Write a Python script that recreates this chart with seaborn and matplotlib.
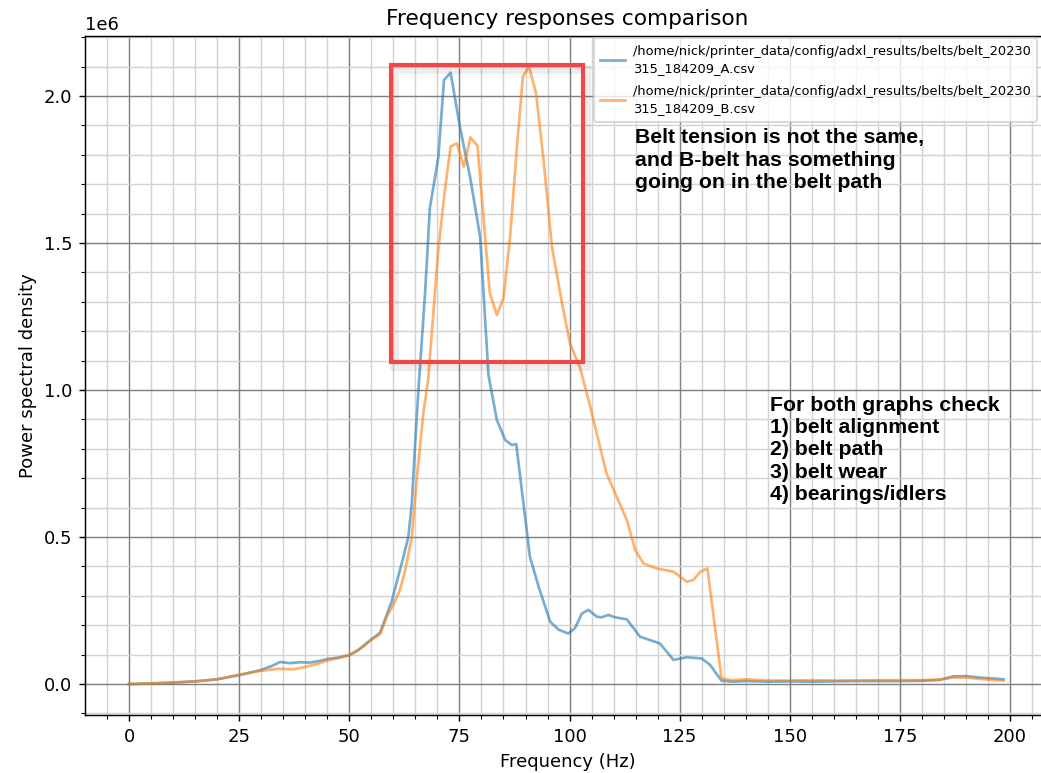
import matplotlib
matplotlib.use("Agg")
import matplotlib.pyplot as plt
import matplotlib.patches as mpatches
import matplotlib.patheffects as pe
from matplotlib.ticker import AutoMinorLocator
import seaborn as sns
import pandas as pd

# Series A (blue)
freq_a = [0, 5, 10, 15, 20, 25, 30, 32.5, 34.3, 36.5, 38.8, 41, 43, 45, 47.5, 50,
          52, 54, 57, 59.6, 61, 62.3, 63.4, 64.2, 64.9, 65.7, 67.2, 68.3, 70.2, 71.5,
          73.0, 75.1, 77.4, 79.7, 81.6, 83.5, 85.4, 86.9, 87.9, 91.0, 93.0, 95.6,
          97.5, 99.7, 101.2, 102.8, 104.3, 106.2, 107.3, 108.8, 110.3, 113.0, 116.0,
          120.5, 123.6, 126.6, 130.0, 131.9, 134.5, 137, 140, 145, 150, 155, 160,
          165, 170, 175, 180, 184, 187, 190, 193, 196, 198.5]
psd_a = [0.0, 0.002, 0.005, 0.009, 0.016, 0.03, 0.048, 0.062, 0.075, 0.071, 0.074,
         0.073, 0.078, 0.085, 0.090, 0.098, 0.115, 0.14, 0.175, 0.28, 0.36, 0.433,
         0.50, 0.615, 0.807, 1.0, 1.33, 1.62, 1.79, 2.054, 2.079, 1.896, 1.726, 1.521,
         1.05, 0.898, 0.83, 0.813, 0.816, 0.433, 0.33, 0.212, 0.185, 0.172, 0.189,
         0.240, 0.252, 0.229, 0.227, 0.235, 0.227, 0.220, 0.161, 0.138, 0.082, 0.091,
         0.087, 0.065, 0.011, 0.008, 0.010, 0.008, 0.009, 0.008, 0.009, 0.010, 0.010,
         0.010, 0.011, 0.014, 0.026, 0.027, 0.022, 0.019, 0.016]

# Series B (orange)
freq_b = [0, 5, 10, 15, 20, 25, 30, 34, 37.3, 40, 43, 45, 47.5, 50, 53, 55, 57, 58.5,
          60, 61.5, 62.7, 64.2, 65.3, 66.8, 67.9, 70.2, 71.7, 73.0, 74.4, 76.0, 77.5,
          79.1, 81.9, 83.5, 85.0, 86.5, 88.0, 89.4, 90.8, 92.4, 94.1, 96.0, 98.3,
          100.1, 102.4, 104.7, 108.4, 110.7, 113.0, 114.9, 116.8, 119.8, 123.6, 126.6,
          128.1, 129.7, 131.3, 134.5, 137, 140, 145, 150, 155, 160, 165, 170, 175, 180,
          184, 187, 190, 195, 198.5]
psd_b = [0.0, 0.002, 0.005, 0.009, 0.016, 0.032, 0.045, 0.052, 0.050, 0.058, 0.070,
         0.080, 0.088, 0.098, 0.125, 0.15, 0.17, 0.229, 0.27, 0.32, 0.388, 0.50, 0.694,
         0.92, 1.034, 1.476, 1.68, 1.828, 1.839, 1.76, 1.859, 1.83, 1.329, 1.255, 1.312,
         1.521, 1.816, 2.066, 2.10, 2.009, 1.782, 1.487, 1.294, 1.159, 1.075, 0.943,
         0.716, 0.637, 0.558, 0.456, 0.41, 0.393, 0.382, 0.348, 0.354, 0.382, 0.393,
         0.019, 0.013, 0.016, 0.012, 0.012, 0.013, 0.012, 0.012, 0.013, 0.013, 0.013,
         0.015, 0.022, 0.022, 0.015, 0.012]

label_a = "/home/nick/printer_data/config/adxl_results/belts/belt_20230\n315_184209_A.csv"
label_b = "/home/nick/printer_data/config/adxl_results/belts/belt_20230\n315_184209_B.csv"

note_1 = "Belt tension is not the same,\nand B-belt has something\ngoing on in the belt path"
note_2 = "For both graphs check\n1) belt alignment\n2) belt path\n3) belt wear\n4) bearings/idlers"

df_a = pd.DataFrame({"freq": freq_a, "psd": [v * 1e6 for v in psd_a]})
df_b = pd.DataFrame({"freq": freq_b, "psd": [v * 1e6 for v in psd_b]})

fig = plt.figure(figsize=(1041 / 130, 773 / 130), dpi=130)
ax = fig.add_axes([85.2 / 1041, (773 - 714.9) / 773, 964.3 / 1041, (714.9 - 35.7) / 773])

sns.lineplot(data=df_a, x="freq", y="psd", ax=ax, color="tab:blue", alpha=0.6, label=label_a)
sns.lineplot(data=df_b, x="freq", y="psd", ax=ax, color="tab:orange", alpha=0.6, label=label_b)

ax.set_xlim(-9.95, 208.95)
ax.set_ylim(-0.105e6, 2.205e6)
ax.set_title("Frequency responses comparison", fontsize="large")
ax.set_xlabel("Frequency (Hz)")
ax.set_ylabel("Power spectral density")
ax.xaxis.set_minor_locator(AutoMinorLocator())
ax.yaxis.set_minor_locator(AutoMinorLocator())
ax.ticklabel_format(axis="y", style="scientific", scilimits=(0, 0))
ax.grid(which="major", color="grey")
ax.grid(which="minor", color="lightgrey")
ax.set_axisbelow(True)

leg = ax.legend(loc="upper right", fontsize=7.2, bbox_to_anchor=(0.987, 0.9966),
                borderaxespad=0.0, labelspacing=0.75, handlelength=1.9, handletextpad=0.6,
                borderpad=0.5)
for t in leg.get_texts():
    t.set_linespacing(1.45)

rect = mpatches.Rectangle((59.5, 1.095e6), 103.1 - 59.5, 2.105e6 - 1.095e6,
                          fill=False, edgecolor="#f04848", linewidth=2.3, zorder=5,
                          path_effects=[pe.SimpleLineShadow(offset=(1.5, -2), shadow_color="k", alpha=0.07,
                                                            linewidth=5),
                                        pe.Normal()])
ax.add_patch(rect)

ax.text(114.9, 1.89e6, note_1, fontsize=11.8, fontweight="bold", family="Liberation Sans",
        va="top", ha="left", linespacing=1.22, zorder=6)
ax.text(145.5, 0.98e6, note_2, fontsize=11.8, fontweight="bold", family="Liberation Sans",
        va="top", ha="left", linespacing=1.22, zorder=6)

fig.savefig("out.png", dpi=130)
